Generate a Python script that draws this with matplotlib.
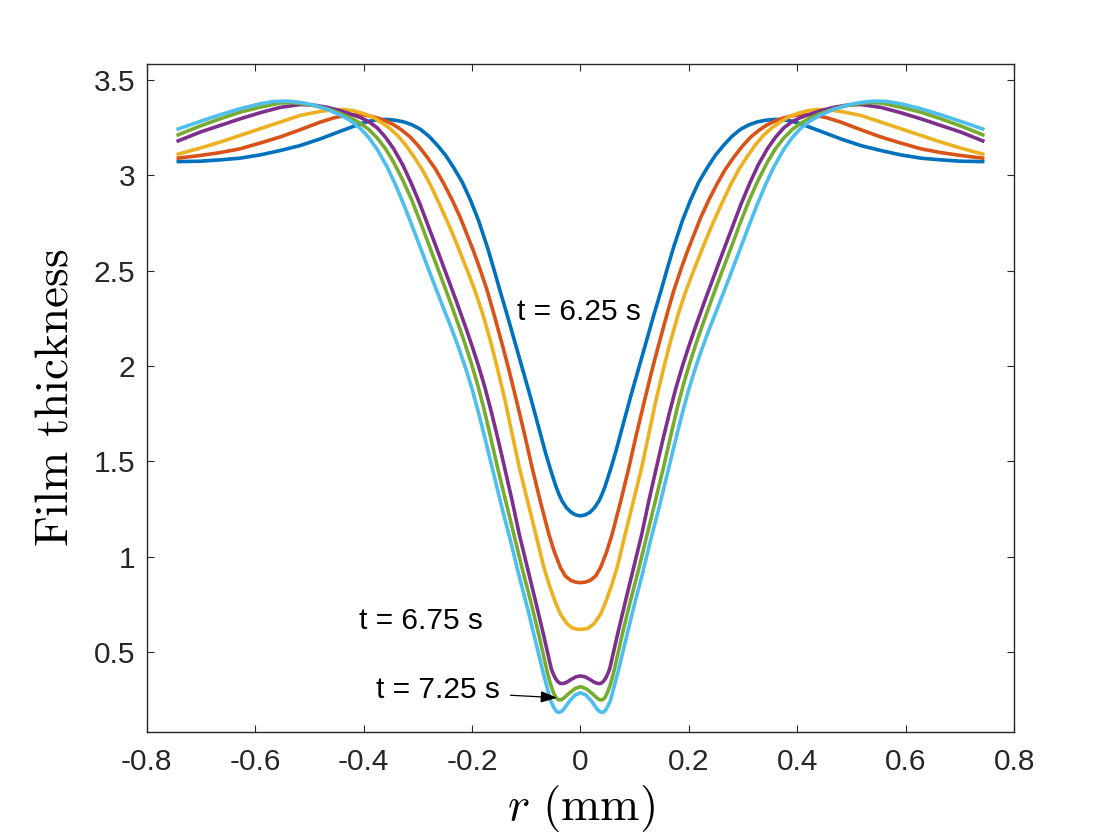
import numpy as np
import matplotlib
matplotlib.use("Agg")
import matplotlib.pyplot as plt

plt.rcParams["mathtext.fontset"] = "cm"
plt.rcParams["font.family"] = ["Liberation Sans", "DejaVu Sans"]

# film profiles, right half (r >= 0); profiles are symmetric in r
r_blue = [0, 0.009, 0.018, 0.026, 0.034, 0.040, 0.046, 0.055, 0.065, 0.073, 0.082, 0.092,
          0.103, 0.114, 0.125, 0.136, 0.148, 0.160, 0.172, 0.188, 0.203, 0.218, 0.234,
          0.249, 0.265, 0.280, 0.295, 0.311, 0.326, 0.342, 0.357, 0.372, 0.388, 0.406,
          0.443, 0.480, 0.517, 0.554, 0.591, 0.628, 0.665, 0.702, 0.745]
h_blue = [1.215, 1.220, 1.235, 1.258, 1.293, 1.330, 1.375, 1.455, 1.550, 1.635, 1.730, 1.835,
          1.945, 2.055, 2.165, 2.275, 2.390, 2.510, 2.625, 2.762, 2.870, 2.963, 3.040,
          3.105, 3.160, 3.205, 3.240, 3.264, 3.279, 3.288, 3.292, 3.291, 3.284, 3.269,
          3.230, 3.190, 3.155, 3.129, 3.106, 3.089, 3.080, 3.073, 3.071]

r_orange = [0, 0.009, 0.018, 0.028, 0.037, 0.048, 0.058, 0.074, 0.089, 0.103, 0.118, 0.132,
            0.145, 0.158, 0.172, 0.185, 0.197, 0.222, 0.237, 0.252, 0.267, 0.283, 0.298,
            0.314, 0.330, 0.345, 0.360, 0.375, 0.390, 0.406, 0.431, 0.455, 0.480, 0.517,
            0.554, 0.591, 0.628, 0.665, 0.702, 0.745]
h_orange = [0.865, 0.868, 0.877, 0.900, 0.944, 1.025, 1.115, 1.290, 1.465, 1.640, 1.818, 1.980,
            2.120, 2.255, 2.395, 2.505, 2.600, 2.780, 2.872, 2.955, 3.030, 3.095, 3.150,
            3.200, 3.237, 3.265, 3.285, 3.300, 3.311, 3.318, 3.315, 3.300, 3.278, 3.238,
            3.200, 3.168, 3.138, 3.118, 3.103, 3.088]

r_yellow = [0, 0.008, 0.015, 0.025, 0.037, 0.046, 0.058, 0.068, 0.083, 0.098, 0.113, 0.126,
            0.139, 0.153, 0.166, 0.180, 0.194, 0.208, 0.222, 0.234, 0.246, 0.262, 0.277,
            0.292, 0.308, 0.323, 0.338, 0.353, 0.369, 0.384, 0.400, 0.418, 0.437, 0.458,
            0.480, 0.517, 0.554, 0.591, 0.628, 0.665, 0.702, 0.745]
h_yellow = [0.620, 0.622, 0.628, 0.650, 0.700, 0.760, 0.856, 0.950, 1.125, 1.297, 1.470, 1.643,
            1.818, 1.985, 2.130, 2.270, 2.390, 2.495, 2.595, 2.680, 2.760, 2.860, 2.950,
            3.030, 3.100, 3.160, 3.210, 3.248, 3.280, 3.305, 3.323, 3.337, 3.344, 3.342,
            3.334, 3.313, 3.278, 3.243, 3.208, 3.173, 3.141, 3.108]

r_purple = [0, 0.008, 0.016, 0.025, 0.030, 0.034, 0.038, 0.042, 0.046, 0.050, 0.054, 0.060,
            0.068, 0.083, 0.098, 0.113, 0.126, 0.140, 0.152, 0.164, 0.176, 0.188, 0.200,
            0.212, 0.229, 0.246, 0.263, 0.280, 0.296, 0.3125, 0.328, 0.345, 0.360, 0.375,
            0.390, 0.406, 0.424, 0.443, 0.468, 0.492, 0.517, 0.554, 0.591, 0.628, 0.665,
            0.702, 0.745]
h_purple = [0.376, 0.372, 0.360, 0.344, 0.338, 0.336, 0.338, 0.347, 0.362, 0.385, 0.415, 0.490,
            0.590, 0.769, 0.944, 1.119, 1.293, 1.468, 1.615, 1.755, 1.885, 2.000, 2.105,
            2.205, 2.340, 2.470, 2.600, 2.728, 2.848, 2.960, 3.055, 3.140, 3.200, 3.248,
            3.280, 3.302, 3.320, 3.338, 3.356, 3.367, 3.370, 3.355, 3.327, 3.295, 3.260,
            3.225, 3.176]

r_green = [0, 0.010, 0.020, 0.030, 0.035, 0.040, 0.045, 0.050, 0.056, 0.062, 0.077, 0.092,
           0.108, 0.123, 0.138, 0.153, 0.166, 0.178, 0.190, 0.202, 0.214, 0.225, 0.242,
           0.2597, 0.277, 0.294, 0.311, 0.3274, 0.345, 0.360, 0.375, 0.390, 0.406, 0.424,
           0.443, 0.461, 0.480, 0.498, 0.517, 0.535, 0.554, 0.591, 0.628, 0.665, 0.702,
           0.745]
h_green = [0.320, 0.310, 0.288, 0.262, 0.252, 0.251, 0.262, 0.290, 0.340, 0.405, 0.594, 0.769,
           0.944, 1.119, 1.293, 1.468, 1.630, 1.775, 1.905, 2.020, 2.125, 2.215, 2.350,
           2.485, 2.615, 2.745, 2.868, 2.972, 3.070, 3.140, 3.195, 3.238, 3.272, 3.300,
           3.323, 3.342, 3.357, 3.368, 3.376, 3.380, 3.378, 3.356, 3.330, 3.295, 3.257,
           3.208]

r_cyan = [0, 0.010, 0.020, 0.030, 0.035, 0.040, 0.044, 0.048, 0.055, 0.061, 0.068, 0.083,
          0.098, 0.114, 0.129, 0.145, 0.160, 0.175, 0.188, 0.200, 0.212, 0.224, 0.237,
          0.255, 0.274, 0.291, 0.308, 0.325, 0.342, 0.357, 0.375, 0.390, 0.406, 0.424,
          0.443, 0.467, 0.492, 0.517, 0.541, 0.566, 0.591, 0.628, 0.665, 0.702, 0.745]
h_cyan = [0.288, 0.276, 0.245, 0.205, 0.190, 0.185, 0.190, 0.205, 0.245, 0.310, 0.384, 0.559,
          0.734, 0.909, 1.084, 1.259, 1.433, 1.608, 1.755, 1.880, 1.990, 2.090, 2.190,
          2.320, 2.460, 2.588, 2.715, 2.840, 2.955, 3.045, 3.135, 3.195, 3.245, 3.285,
          3.315, 3.345, 3.367, 3.381, 3.388, 3.386, 3.374, 3.348, 3.316, 3.281, 3.239]

profiles = [(r_blue, h_blue), (r_orange, h_orange), (r_yellow, h_yellow),
            (r_purple, h_purple), (r_green, h_green), (r_cyan, h_cyan)]
colors = ["#0072BD", "#D95319", "#EDB120", "#7E2F8E", "#77AC30", "#4DBEEE"]

xticks = [-0.8, -0.6, -0.4, -0.2, 0, 0.2, 0.4, 0.6, 0.8]
xticklabels = ["-0.8", "-0.6", "-0.4", "-0.2", "0", "0.2", "0.4", "0.6", "0.8"]
yticks = [0.5, 1, 1.5, 2, 2.5, 3, 3.5]
yticklabels = ["0.5", "1", "1.5", "2", "2.5", "3", "3.5"]

fig = plt.figure(figsize=(11.2, 8.4), dpi=100)
ax = fig.add_axes([0.131, 0.128, 0.7746, 0.7964])

for (r, h), c in zip(profiles, colors):
    r = np.asarray(r)
    h = np.asarray(h)
    r_full = np.concatenate([-r[:0:-1], r])
    h_full = np.concatenate([h[:0:-1], h])
    ax.plot(r_full, h_full, color=c, lw=2.6, solid_joinstyle="round",
            solid_capstyle="butt")

ax.set_xlim(-0.8, 0.8)
ax.set_ylim(0.08, 3.585)
ax.set_xticks(xticks)
ax.set_xticklabels(xticklabels)
ax.set_yticks(yticks)
ax.set_yticklabels(yticklabels)

dark = "#262626"
for s in ax.spines.values():
    s.set_color(dark)
    s.set_linewidth(1.0)
ax.tick_params(direction="in", length=5, width=0.8, colors=dark, labelsize=21.5,
               top=True, right=True)
ax.tick_params(axis="x", pad=11)
ax.tick_params(axis="y", pad=8)

ax.set_xlabel(r"$r\ \mathrm{(mm)}$", fontsize=34)
ax.xaxis.set_label_coords(0.5, -0.113)
ax.xaxis.label.set_va("center")
ax.set_ylabel(r"$\mathrm{Film\ thickness}$", fontsize=34)
ax.yaxis.set_label_coords(-0.1057, 0.5)
ax.yaxis.label.set_va("center")

ax.text(-0.117, 2.243, "t = 6.25 s", fontsize=21.5, color="k", va="baseline")
ax.text(-0.409, 0.624, "t = 6.75 s", fontsize=21.5, color="k", va="baseline")
ax.text(-0.378, 0.262, "t = 7.25 s", fontsize=21.5, color="k", va="baseline")
ax.annotate("", xy=(-0.043, 0.262), xytext=(-0.129, 0.275),
            arrowprops=dict(arrowstyle="-|>,head_length=1.0,head_width=0.35",
                            color="k", lw=0.9, shrinkA=0, shrinkB=0))

fig.savefig("out.png", dpi=100, facecolor="white")
